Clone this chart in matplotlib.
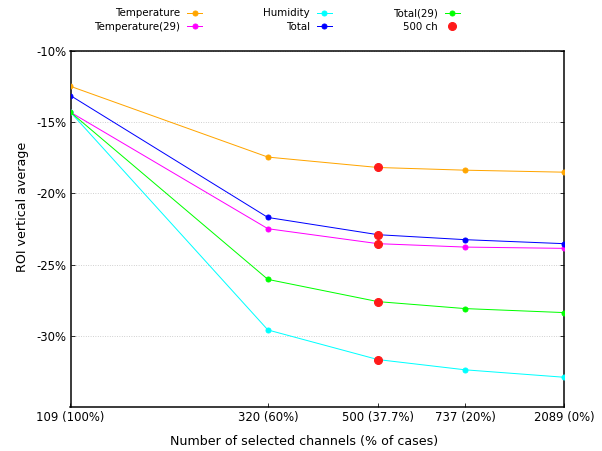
import matplotlib
matplotlib.use("Agg")
import matplotlib.pyplot as plt
from matplotlib.ticker import FuncFormatter

# Channel counts and share of cases kept (x axis)
channels = [109, 320, 500, 737, 2089]
cases_pct = [100, 60, 37.7, 20, 0]

# ROI vertical average (%) per configuration
temperature = [-12.48, -17.45, -18.18, -18.37, -18.51]
temperature29 = [-14.30, -22.48, -23.53, -23.77, -23.86]
humidity = [-14.30, -29.59, -31.67, -32.39, -32.91]
total = [-13.13, -21.69, -22.90, -23.25, -23.53]
total29 = [-14.30, -26.04, -27.60, -28.09, -28.37]

series = [
    ("Temperature", temperature, "#ffa500"),
    ("Temperature(29)", temperature29, "#ff00ff"),
    ("Humidity", humidity, "#00ffff"),
    ("Total", total, "#0000ff"),
    ("Total(29)", total29, "#00ff00"),
]
highlight_idx = 2  # the 500-channel configuration

plt.rcParams["font.family"] = ["DejaVu Sans"]
plt.rcParams["font.size"] = 11.6
plt.rcParams["axes.unicode_minus"] = False

fig = plt.figure(figsize=(602 / 72, 451 / 72), dpi=72)
ax = fig.add_axes([70.5 / 602, 1 - 407 / 451, (564 - 70.5) / 602, (407 - 51) / 451])

handles = []
for name, vals, color in series:
    h, = ax.plot(cases_pct, vals, color=color, lw=1.0, marker="o", ms=5,
                 label=name, zorder=3)
    handles.append(h)

hl_x = [cases_pct[highlight_idx]] * len(series)
hl_y = [vals[highlight_idx] for _, vals, _ in series]
h500, = ax.plot(hl_x, hl_y, linestyle="none", marker="o", ms=8,
                color="#ff1a1a", label="500 ch", zorder=4)
handles.append(h500)

ax.set_xlim(100, 0)
ax.set_ylim(-35, -10)
ax.set_xticks(cases_pct)
ax.set_xticklabels([f"{c} ({p:g}%)" for c, p in zip(channels, cases_pct)])
ax.set_yticks([-10, -15, -20, -25, -30])
ax.yaxis.set_major_formatter(FuncFormatter(lambda v, _: f"{v:.0f}%"))

ax.tick_params(axis="both", direction="in", length=4, width=0.8, pad=4,
               labelsize=11.6)
ax.tick_params(axis="y", right=True)
ax.grid(axis="y", linestyle=(0, (1, 2)), color="#bbbbbb", lw=0.8)
for s in ax.spines.values():
    s.set_linewidth(1.5)

ax.set_xlabel("Number of selected channels (% of cases)", fontsize=12.6, labelpad=11)
ax.set_ylabel("ROI vertical average", fontsize=12.6, labelpad=7)
ax.xaxis.label.set_x(0.473)
ax.yaxis.label.set_y(0.562)

fig.legend(handles=handles, loc="center", bbox_to_anchor=(277 / 602, 1 - 20 / 451),
           ncol=3, frameon=False, markerfirst=False, handlelength=1.47,
           handletextpad=0.69, columnspacing=5.95, labelspacing=0.35,
           borderpad=0, fontsize=10.2)

fig.savefig("out.png", dpi=72)
